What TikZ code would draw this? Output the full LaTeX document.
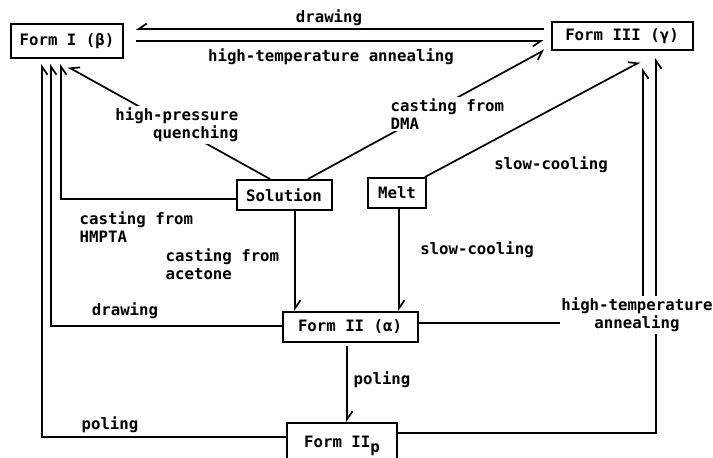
\documentclass[tikz,border=0pt]{standalone}
\usepackage{fontspec}
\newfontfamily\tw{DejaVu Sans Mono Bold}
\usetikzlibrary{arrows.meta,calc}
\tikzset{
  box/.style={draw, line width=2pt, inner sep=0pt, font=\tw\fontsize{15.7}{18}\selectfont},
  lbl/.style={inner sep=1.5pt, font=\tw\fontsize{15.7}{18}\selectfont, fill=white},
  conn/.style={line width=1.7pt},
  tipa/.style={conn, -{Straight Barb[harpoon, length=8pt, width=11pt, line width=1.7pt]}},
  tipb/.style={conn, -{Straight Barb[harpoon, swap, length=8pt, width=11pt, line width=1.7pt]}}
}
\begin{document}
\begin{tikzpicture}[x=1pt,y=-1pt]
\useasboundingbox (0,0) rectangle (713,458);
% nodes
\node[box, minimum width=112pt, minimum height=34pt] (f1) at (67,41) {Form I (β)};
\node[box, minimum width=141pt, minimum height=28pt] (f3) at (622,36) {Form III (γ)};
\node[box, minimum width=95pt, minimum height=30pt] (sol) at (284,195) {Solution};
\node[box, minimum width=58pt, minimum height=30pt] (melt) at (397,193) {Melt};
\node[box, minimum width=135pt, minimum height=30pt] (f2) at (350,327) {Form II (α)};
\node[box, minimum width=110pt, minimum height=42pt, text depth=0pt] (f2p) at (342,444) {\raisebox{4pt}{Form II\raisebox{-5pt}{p}}};
% top connectors
\draw[tipb] ([shift={(-7,-7)}]f3.west) -- ([shift={(12,-12)}]f1.east);
\draw[tipb] ([shift={(12,0)}]f1.east) -- ([shift={(-7,5)}]f3.west);
% diagonals
\draw[tipb] ([shift={(-14,0)}]sol.north) -- ([shift={(1,8)}]f1.south);
\draw[tipb] ([shift={(24,0)}]sol.north) -- ([shift={(-6,14)}]f3.west);
\draw[tipa] ([shift={(-2,0)}]melt.north east) -- ([shift={(18,11)}]f3.south);
% left verticals into Form I
\draw[tipb] ([shift={(0,4)}]sol.west) -| ([shift={(-6,5)}]f1.south);
\draw[tipb] ([shift={(0,-1)}]f2.west) -| ([shift={(-16,5)}]f1.south);
\draw[tipb] ([shift={(0,-7)}]f2p.west) -| ([shift={(-25,5)}]f1.south);
% right verticals into Form III
\draw[tipb] ([shift={(0,-4)}]f2.east) -| ([shift={(21,17)}]f3.south);
\draw[tipb] ([shift={(0,-11)}]f2p.east) -| ([shift={(34,7)}]f3.south);
% downward arrows
\draw[tipa] ([xshift=11pt]sol.south) -- ([xshift=11pt]sol.south |- f2.north);
\draw[tipa] ([xshift=2pt]melt.south) -- ([xshift=2pt]melt.south |- f2.north);
\draw[tipa] ([shift={(-3,3)}]f2.south) -- ([xshift=-3pt]f2.south |- f2p.north);
% labels
\node[lbl] (ldraw) at (329,18) {drawing};
\node[lbl] (lhta) at (331,57) {high-temperature annealing};
\node[lbl, anchor=east, align=right] (lhpq) at (240,125) {high-pressure\\quenching};
\node[lbl, anchor=west, align=left] (ldma) at (389,114) {casting from\\DMA};
\node[lbl] (lsc1) at (551,165) {slow-cooling};
\node[lbl, anchor=west, align=left] (lhm) at (78,227) {casting from\\HMPTA};
\node[lbl, anchor=west, align=left] (lac) at (164,264) {casting from\\acetone};
\node[lbl] (lsc2) at (477,250) {slow-cooling};
\node[lbl] (ldraw2) at (125,311) {drawing};
\node[lbl, align=center] (lhta2) at (637,315) {high-temperature\\annealing};
\node[lbl] (lpol1) at (382,380) {poling};
\node[lbl] (lpol2) at (110,425) {poling};
\end{tikzpicture}
\end{document}
